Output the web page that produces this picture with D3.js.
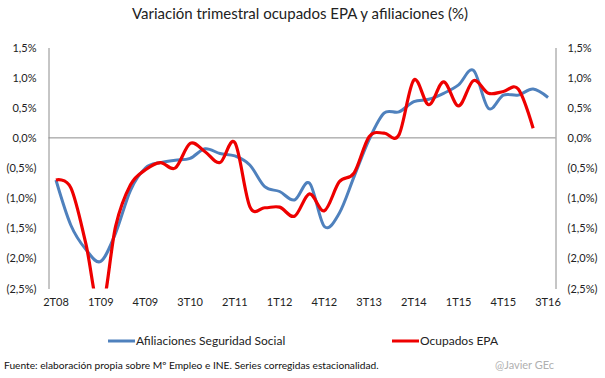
<!DOCTYPE html>
<html><head><meta charset="utf-8">
<script src="https://cdn.jsdelivr.net/npm/d3@7"></script>
<style>body{margin:0;background:#fff;} text{font-family:Lato,"Open Sans",sans-serif;}</style>
</head><body>
<svg id="c" width="605" height="378"></svg>
<script>
const categories = ["2T08","3T08","4T08","1T09","2T09","3T09","4T09","1T10","2T10","3T10","4T10","1T11","2T11","3T11","4T11","1T12","2T12","3T12","4T12","1T13","2T13","3T13","4T13","1T14","2T14","3T14","4T14","1T15","2T15","3T15","4T15","1T16","2T16","3T16"];
const afiliaciones = [-0.70,-1.45,-1.85,-2.05,-1.58,-0.87,-0.50,-0.41,-0.37,-0.34,-0.18,-0.26,-0.30,-0.45,-0.81,-0.89,-1.03,-0.75,-1.47,-1.25,-0.64,-0.03,0.41,0.43,0.60,0.64,0.74,0.88,1.12,0.49,0.71,0.71,0.81,0.67];
const ocupados = [-0.70,-0.83,-1.75,-2.90,-1.47,-0.78,-0.53,-0.41,-0.50,-0.09,-0.23,-0.41,-0.08,-1.14,-1.16,-1.15,-1.30,-0.93,-1.21,-0.73,-0.58,0.02,0.08,0.05,0.96,0.55,0.93,0.53,0.95,0.74,0.77,0.81,0.16];
const yTicks = [1.5,1.0,0.5,0.0,-0.5,-1.0,-1.5,-2.0,-2.5];
const xLabelEvery = 3;
const seriesNames = ["Afiliaciones Seguridad Social","Ocupados EPA"];
const colors = ["#4F81BD","#EE0000"];

const svg = d3.select("#c");
const L = 48.5, R = 555.5, T = 47.5, B = 288.5;
const x = d3.scaleBand().domain(categories).range([L,R]);
const cx = c => x(c) + x.bandwidth()/2;
const y = d3.scaleLinear().domain([-2.5,1.5]).range([B,T]);
const fmt = v => { const s = d3.format(".1f")(Math.abs(v)).replace(".",",") + "%"; return v < -1e-9 ? "(" + s + ")" : s; };

svg.append("text").attr("x",300).attr("y",19).attr("text-anchor","middle")
  .style("font-size","15px").attr("fill","#222").text("Variación trimestral ocupados EPA y afiliaciones (%)");

// axes
const axisL = d3.axisLeft(y).tickValues(yTicks).tickFormat(fmt).tickSize(0).tickPadding(12);
const axisR = d3.axisRight(y).tickValues(yTicks).tickFormat(fmt).tickSize(0).tickPadding(12);
const gL = svg.append("g").attr("transform",`translate(${L},0)`).call(axisL);
const gR = svg.append("g").attr("transform",`translate(${R},0)`).call(axisR);
[gL,gR].forEach(g=>{
  g.select(".domain").attr("stroke","#8c8c8c").attr("stroke-width",1);
  g.selectAll("text").style("font-size","11px").style("font-family","Lato,'Open Sans',sans-serif").attr("fill","#222");
});
gL.selectAll("text").attr("x",-12);

// zero line (category axis)
svg.append("line").attr("x1",L).attr("x2",R).attr("y1",y(0)).attr("y2",y(0)).attr("stroke","#8c8c8c").attr("stroke-width",1);

// x labels
const xAxis = d3.axisBottom(x).tickValues(categories.filter((d,i)=>i%xLabelEvery===0)).tickSize(0).tickPadding(0);
const gX = svg.append("g").attr("transform",`translate(0,${B+10})`).call(xAxis);
gX.select(".domain").remove();
gX.selectAll("text").style("font-size","11px").style("font-family","Lato,'Open Sans',sans-serif").attr("fill","#222");

// clip
svg.append("clipPath").attr("id","clip").append("rect").attr("x",L).attr("y",T).attr("width",R-L).attr("height",B-T);

const line = d3.line().x((d,i)=>cx(categories[i])).y(d=>y(d)).curve(d3.curveCardinal.tension(0));
const plot = svg.append("g").attr("clip-path","url(#clip)");
plot.append("path").datum(afiliaciones).attr("d",line).attr("fill","none").attr("stroke",colors[0]).attr("stroke-width",3).attr("stroke-linejoin","round");
plot.append("path").datum(ocupados).attr("d",line).attr("fill","none").attr("stroke",colors[1]).attr("stroke-width",3.2).attr("stroke-linejoin","round");

// legend
const legX = [108, 392];
seriesNames.forEach((n,i)=>{
  svg.append("line").attr("x1",legX[i]).attr("x2",legX[i]+27).attr("y1",341).attr("y2",341).attr("stroke",colors[i]).attr("stroke-width",3);
  svg.append("text").attr("x",legX[i]+28).attr("y",345).style("font-size","12px").attr("fill","#222").text(n);
});

// footer
svg.append("text").attr("x",4).attr("y",369).style("font-size","10.2px").attr("fill","#111")
  .text("Fuente:  elaboración propia sobre Mº Empleo e INE. Series corregidas estacionalidad.");
svg.append("text").attr("x",495).attr("y",369).style("font-size","11px").attr("fill","#b0b0b0").text("@Javier GEc");
</script>
</body></html>
